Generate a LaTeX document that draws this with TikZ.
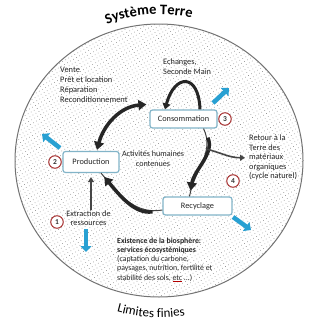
\documentclass[tikz,border=0pt]{standalone}
\usepackage{fontspec}
\setmainfont{Carlito}
\usetikzlibrary{arrows.meta,decorations.text,patterns.meta,calc}
\definecolor{boxc}{RGB}{130,180,200}
\definecolor{numc}{RGB}{165,45,45}
\definecolor{bluea}{RGB}{40,160,210}
\definecolor{arrg}{RGB}{70,70,70}
\begin{document}
\begin{tikzpicture}[x=1pt,y=1pt,
  box/.style={draw=boxc, line width=1.2pt, rounded corners=2.5pt, fill=white, inner sep=0pt, font=\fontsize{8.3}{9.5}\selectfont, text=black!85},
  num/.style={circle, draw=numc, line width=1pt, fill=white, minimum size=12.5pt, inner sep=0pt, font=\fontsize{7.5}{8}\selectfont\bfseries, text=black!80},
  txt/.style={font=\fontsize{8.3}{9.5}\selectfont, align=left, inner sep=0pt, text=black!85},
  cyc/.style={line width=3.5pt, black!85, -{Triangle[length=8pt,width=10pt]}},
  thinl/.style={line width=1pt, black!75},
  thina/.style={line width=1.6pt, arrg, -{Triangle[length=5pt,width=6pt]}},
  blu/.style={line width=4.5pt, bluea, -{Triangle[length=6pt,width=11pt]}},
]
\useasboundingbox (0,0) rectangle (320,-324);
% Earth system ellipse
\fill[white] (159,-160.5) ellipse[x radius=144, y radius=136.5];
\fill[pattern={Dots[distance=3.5pt,radius=0.45pt,angle=30]}, pattern color=black!45] (159,-160.5) ellipse[x radius=144, y radius=136.5];
\draw[black!55, line width=1pt] (159,-160.5) ellipse[x radius=144, y radius=136.5];
% curved titles
\path[decorate, decoration={text along path, text align=center,
  text={|\fontsize{14.5}{14.5}\selectfont\bfseries|Système Terre}}]
  (159,-160.5) ++(115:146) arc[start angle=115, end angle=73, radius=146];
\path[decorate, decoration={text along path, text align=center,
  text={|\fontsize{13}{13}\selectfont|Limites finies}}]
  (159,-160.5) ++(248:157) arc[start angle=248, end angle=286, radius=157];
% boxes
\node[box, minimum width=56pt, minimum height=21pt] (prod) at (91,-162) {Production};
\node[box, minimum width=67pt, minimum height=18pt] (cons) at (183.5,-119) {Consommation};
\node[box, minimum width=69pt, minimum height=18pt] (recy) at (197.5,-206) {Recyclage};
% numbers
\node[num] (n1) at (57,-222) {1};
\node[num] (n2) at (55,-162) {2};
\node[num] (n3) at (225,-119) {3};
\node[num] (n4) at (233,-181) {4};
% texts
\node[txt, anchor=north west, font=\fontsize{8.4}{10}\selectfont] (vente) at (60,-67) {Vente\\Prêt et location\\Réparation\\Reconditionnement};
\node[txt, anchor=north west] (ech) at (163,-59) {Echanges,\\Seconde Main};
\node[txt, align=center, font=\fontsize{8.1}{9.5}\selectfont] (act) at (153,-158.5) {Activités humaines\\contenues};
\node[txt, anchor=north west] (ret) at (249,-135) {Retour à la\\Terre des\\matériaux\\organiques\\(cycle naturel)};
\node[txt, align=center] (extr) at (88.5,-218) {Extraction de\\ressources};
\node[txt, anchor=north west, font=\fontsize{7.8}{9.1}\selectfont] (exist) at (117,-238) {\textbf{Existence de la biosphère:}\\\textbf{services écosystémiques}\\(captation du carbone,\\paysages, nutrition, fertilité et\\stabilité des sols, {\color{red!70!black}\underline{\textcolor{black!85}{etc}}} ...)};
% cycle arrows
\draw[cyc, {Triangle[length=8pt,width=10pt]}-{Triangle[length=8pt,width=10pt]}]
  ([xshift=6pt,yshift=1pt]prod.north) to[out=75,in=185] ([xshift=-3pt,yshift=5pt]cons.north west);
\draw[line width=3pt, black!85, -{Triangle[length=6pt,width=8pt]}]
  ([xshift=16.5pt]cons.north) to[out=92,in=75,looseness=2.7] ([xshift=-18.5pt]cons.north);
\draw[thinl] ([xshift=-14pt]cons.south east) to[out=-65,in=80] ([xshift=-8pt]recy.north);
\draw[cyc, shorten <=10pt, shorten >=6pt] ([xshift=-14pt]cons.south east) to[out=-65,in=80] node[pos=0.3, coordinate](br){} ([xshift=-8pt]recy.north);
\draw[thinl] ([yshift=-4pt]recy.west) to[out=190,in=-50] ([xshift=10pt]prod.south);
\draw[cyc, shorten <=10pt, shorten >=5pt] ([yshift=-4pt]recy.west) to[out=190,in=-50] ([xshift=10pt]prod.south);
% thin grey arrows
\draw[thina, shorten >=4pt] (extr.north -| prod.south) -- (prod.south);
\draw[thina] (br) to[out=-15,in=180] ([xshift=-4pt]ret.west);
% blue arrows
\draw[blu] (213,-103) -- (229,-88);
\draw[blu] (60,-148) -- (42,-134);
\draw[blu] (86,-229) -- (86,-252);
\draw[blu] (233,-217) -- (251,-230);
\end{tikzpicture}
\end{document}
